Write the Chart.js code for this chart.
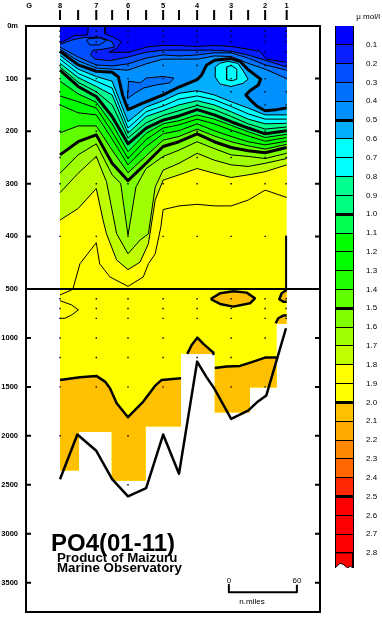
<!DOCTYPE html>
<html><head><meta charset="utf-8">
<style>html,body{margin:0;padding:0;background:#fff}#w{position:relative;width:382px;height:617px}canvas{position:absolute;left:0;top:0}</style>
<script src="https://cdn.jsdelivr.net/npm/chart.js@4"></script></head>
<body><div id="w"><canvas id="main" width="382" height="617"></canvas><canvas id="bar" width="382" height="617"></canvas></div>
<script>
// x in n.miles from station 8; depth in m
const gridX=[0,16,32,46,60,76,91,105,121,136,151,166,181,200];
const topLabels=['8','','7','','6','','5','','4','','3','','2','1'];
const depthTicksUpper=[0,100,200,300,400,500];
const depthTicksLower=[1000,1500,2000,2500,3000,3500];
const sampleUpper=[10,20,30,50,75,100,125,150,200,250,300,400];
const sampleLower=[600,700,800,1000,1200,1500,2000,2500];
const stationX=[0,32,60,91,121,151,181,199.5];
const stationBottom=[2400,1960,2500,1900,1200,1750,1500,800];

const c01=[[0,32],[13,18],[24.4,17],[25,0],[39.7,0],[39.7,15],[47,21],[54,30],[50,43],[43,50],[60,50],[72.5,43],[76,40],[91,37],[105,37],[121,39],[136,37],[151,39],[166,44],[176.5,48],[182,63],[200,69]];
const c02=[[0,35],[10,27],[20.6,22],[35,21],[46,30],[48,40],[38,44],[29,46],[27,55],[31,63],[44,66],[60,59],[76,50],[91,46],[105,46],[121,46],[136,46],[151,48],[166,55],[181,65],[200,78]];
const c03=[40,59,74,76,72,61,55,57,55,51,51,61,74,84];
const c04=[44,66,80,82,84,72,63,63,63,57,58,71,82,100];
const c05=[[0,48],[16,74],[32,86],[46,88],[51.5,97],[55.3,132],[60,159],[76,144],[91,131],[105,116],[121,102],[125,93],[129.4,74],[136.5,65],[151,62],[158.8,67],[166,83],[172,93],[177,101],[175,112],[167.6,123],[164,131],[167.6,140],[173.5,152],[181,161],[191,159],[200,156]];
const c06=[56,82,96,105,182,154,142,128,123,131,144,156,169,169];
const c07=[63,90,105,118,194,163,152,139,133,140,153,167,177,177];
const c08=[71,98,115,131,204,172,161,150,142,150,163,177,186,185];
const c09=[78,107,125,150,213,184,170,161,151,159,172,186,196,192];
const c10=[84,115,134,172,224,194,179,171,159,169,182,194,205,199];
const c11=[105,129,145,186,239,204,186,180,169,177,189,201,212,206];
const c12=[133,144,156,201,252,216,194,188,177,186,198,209,219,212];
const c13=[150,165,169,215,264,229,205,199,186,199,210,220,226,219];
const c14=[203,190,190,236,279,247,217,210,196,209,220,228,234,225];
const c15=[245,220,207,261,294,261,229,220,205,220,231,237,241,231];
const c16=[[0,280],[16,245],[32,224],[46,283],[53.5,299],[60,398],[67,306],[76,271],[91,248],[105,236],[121,220],[136,233],[151,245],[166,248],[181,252],[200,242]];
const c17=[[0,317],[16,280],[32,248],[41,296],[50,395],[60,433],[70.6,407],[78,395],[84,306],[91,274],[105,261],[121,242],[136,255],[151,264],[166,267],[181,261],[200,252]];
const c18=[[0,369],[16,347],[32,309],[38,369],[41,395],[50,445],[60,463],[70.6,449],[78,414],[84,331],[91,293],[105,283],[121,271],[136,280],[151,288],[166,283],[181,277],[200,264]];
const c19=[[0,500],[11.5,499],[17.6,452],[32,412],[35,452],[44,477],[60,495],[73.5,477],[78,452],[84,433],[89,382],[91,349],[105,342],[121,339],[136,342],[151,342],[166,331],[181,312],[200,326]];
const levels=[0.1,0.2,0.3,0.4,0.5,0.6,0.7,0.8,0.9,1.0,1.1,1.2,1.3,1.4,1.5,1.6,1.7,1.8,1.9];
const contourData=[c01,c02,c03,c04,c05,c06,c07,c08,c09,c10,c11,c12,c13,c14,c15,c16,c17,c18,c19];
const bandColors=['#0000ff','#0820ff','#0050ff','#0070ff','#0090ff','#00b0ff','#00ffff','#00ffff','#00ff90','#00ff80','#00ff50','#00ff00','#00ff00','#20ff00','#60ff00','#80ff00','#a0ff00','#c0ff00','#ffff00','#ffff00','#ffc000','#ffa800','#ff8800','#ff6800','#ff2800','#ff0000','#ff0000','#ff0000','#ff0000'];

// closed features, upper
const patch04=[[59.5,138],[60.5,105],[71,108],[76,99],[91,96],[100.5,99],[97,108],[85,112],[73.5,118],[66,128],[59.5,138]];
const patch02=[[23.5,27],[26,24],[35,23],[41,27],[35,36],[26,36],[23.5,27]];
const patch06=[[137,97],[137,78],[141,71],[148,67],[157,71],[161.5,85],[166,101],[161.5,109],[151,115],[141,110],[137,97]];
const patch07=[[147,78],[147,102],[152,104],[156,101],[156,82],[151,75],[147,78]];

// lower panel
const fieldSteps=[[0,500],[200,500],[200,854],[191.2,854],[191.2,1507],[167.6,1507],[167.6,1762],[136.5,1762],[136.5,1163],[106.8,1163],[106.8,1905],[75.6,1905],[75.6,2460],[45.6,2460],[45.6,1960],[16.8,1960],[16.8,2354],[0,2354],[0,500]];
const lineA20=[[0,1429],[17.6,1402],[32,1388],[39.7,1446],[44.1,1514],[50,1667],[60,1810],[73.5,1650],[83.8,1490],[89.7,1429],[106.8,1412]];
const fillA20=[[106.8,1905],[75.6,1905],[75.6,2460],[45.6,2460],[45.6,1960],[16.8,1960],[16.8,2354],[0,2354]];
const lineB20=[[136.5,1306],[147,1293],[158.8,1286],[170.6,1242],[180.9,1201],[191.2,1201]];
const fillB20=[[191.2,1507],[167.6,1507],[167.6,1762],[136.5,1762]];
const lineC20=[[112.3,1163],[116.2,1072],[121.2,997],[126.5,1061],[135.3,1150],[135.3,1163]];
const lineD20=[[132.9,602],[141.2,544],[152.9,524],[164.7,537],[172,595],[167.6,646],[152.9,680],[141.2,653],[132.9,602]];
const lineE20=[[200,510],[195.6,544],[193.5,605],[197,629],[200,629]];
const lineF20=[[190.3,850],[192.6,799],[197,772],[200,772]];
const lowerYellow1=[[0,561],[10,510],[13,500]];
const lowerYellow2=[[0,619],[10.3,663],[16.2,714],[10.3,765],[4.4,799],[0,799]];
const bottomX=[0,15.3,32,46,60,76,91,105,121,129,136,151,166,173.5,182,199.4];
const bottomDepth=[2443,1987,2153,2443,2619,2534,1987,2388,1242,1395,1514,1827,1742,1660,1589,901];
const stationOneMark=[[199.5,400],[199.5,500]];
const scaleBar=[[149,3521],[149,3599],[209,3599],[209,3521]];

function pts(a){return a.map(p=>Array.isArray(p)?{x:p[0],y:p[1]}:null)}
function path(c){return typeof c[0]==='number'?c.map((d,i)=>[gridX[i],d]):c}
function poly(a,color,axis){return {type:'scatter',showLine:true,data:pts(a),yAxisID:axis,xAxisID:'x',fill:'shape',backgroundColor:color,borderWidth:0,borderColor:'transparent',pointRadius:0,tension:0}}
function stroke(a,w,axis,clip){return {type:'scatter',showLine:true,data:pts(a),yAxisID:axis,xAxisID:'x',fill:false,borderColor:'#000',backgroundColor:'transparent',borderWidth:w,pointRadius:0,tension:0,borderJoinStyle:'round'}}

const paint=[];
// base colour of each panel
paint.push(poly([[0,0],[200,0],[200,500],[0,500]],'#ffff00','y1'));
paint.push(poly(fieldSteps,'#ffff00','y2'));
// contours, deepest painted first
for(let i=contourData.length-1;i>=0;i--){
  const p=path(contourData[i]);
  paint.push(poly(p.concat([[200,0],[0,0]]),bandColors[i],'y1'));
}
paint.push(poly(patch04,'#0070ff','y1'));
paint.push(poly(patch02,'#0050ff','y1'));
paint.push(poly(patch06,'#00ffff','y1'));
paint.push(poly(lineA20.concat(fillA20),'#ffc000','y2'));
paint.push(poly(lineB20.concat(fillB20),'#ffc000','y2'));
paint.push(poly(lineC20,'#ffc000','y2'));
paint.push(poly(lineD20,'#ffc000','y2'));
paint.push(poly(lineE20,'#ffc000','y2'));
paint.push(poly(lineF20.concat([[200,854],[190.3,854]]),'#ffc000','y2'));
const lines=[];
contourData.forEach((c,i)=>lines.push(stroke(path(c),(i+1)%5===0?3:1,'y1')));
[patch04,patch02,patch06,patch07].forEach(a=>lines.push(stroke(a,1,'y1')));
[lineA20,lineB20,lineC20,lineD20,lineE20,lineF20].forEach(a=>lines.push(stroke(a,2.5,'y2')));
[lowerYellow1,lowerYellow2].forEach(a=>lines.push(stroke(a,1,'y2')));
lines.push(stroke(stationOneMark,2,'y1'));
lines.push(stroke(bottomX.map((x,i)=>[x,bottomDepth[i]]),2.5,'y2'));
lines.push(stroke(scaleBar,2,'y2'));

const dotsU=[],dotsL=[];
stationX.forEach((x,i)=>{sampleUpper.forEach(d=>dotsU.push({x,y:d}));sampleLower.forEach(d=>{if(d<=stationBottom[i])dotsL.push({x,y:d})})});
const dots=a=>({type:'scatter',data:a,pointRadius:1,pointStyle:'rect',pointBackgroundColor:'#000',pointBorderWidth:0,showLine:false});
const dotU=dots(dotsU);dotU.yAxisID='y1';const dotL=dots(dotsL);dotL.yAxisID='y2';

// Chart.js draws dataset 0 last: reverse painting order
const datasets=[dotU,dotL].concat(lines.slice().reverse(),paint.slice().reverse());

const FONT='"Liberation Sans"';
const frame={id:'frame',afterDraw(ch){
  const c=ch.ctx,a=ch.chartArea,sx=ch.scales.x,y1=ch.scales.y1,y2=ch.scales.y2;
  c.save();c.strokeStyle='#000';c.fillStyle='#000';
  c.lineWidth=2;c.strokeRect(a.left,a.top,a.right-a.left,a.bottom-a.top);
  c.beginPath();c.moveTo(a.left,y1.bottom);c.lineTo(a.right,y1.bottom);c.stroke();
  c.beginPath();
  gridX.forEach(v=>{const x=sx.getPixelForValue(v);c.moveTo(x,10);c.lineTo(x,20)});
  depthTicksUpper.slice(1,-1).forEach(d=>{const y=y1.getPixelForValue(d);c.moveTo(a.left,y);c.lineTo(a.left+5,y);c.moveTo(a.right-5,y);c.lineTo(a.right,y)});
  depthTicksLower.forEach(d=>{const y=y2.getPixelForValue(d);c.moveTo(a.left,y);c.lineTo(a.left+5,y);c.moveTo(a.right-5,y);c.lineTo(a.right,y)});
  c.stroke();
  c.textBaseline='middle';c.textAlign='left';
  c.font='bold 24px '+FONT;c.fillText('PO4(01-11)',51,544);
  c.font='bold 13.3px '+FONT;c.fillText('Product of Maizuru',57,558);c.fillText('Marine Observatory',57,568);
  c.textAlign='center';c.font='8px '+FONT;
  c.fillText('0',sx.getPixelForValue(149),581);c.fillText('60',sx.getPixelForValue(209),581);
  c.fillText('n.miles',252,602);
  c.textAlign='right';c.fillText('\u03bc mol/l',380,17);
  c.restore();
}};
const tickFont={family:FONT,size:7.5,weight:'bold'};
const fitY=s=>{s.width=26;s.paddingTop=0;s.paddingBottom=0;s.paddingLeft=0;s.paddingRight=0};
new Chart(document.getElementById('main'),{
  type:'scatter',
  data:{datasets},
  plugins:[frame],
  options:{responsive:false,animation:false,devicePixelRatio:1,
    layout:{padding:{left:0,right:62,top:0,bottom:5}},
    plugins:{legend:{display:false},tooltip:{enabled:false}},
    scales:{
      x:{type:'linear',position:'top',min:-30,max:229.4,
        afterBuildTicks(s){s.ticks=[{value:-27.3}].concat(gridX.map(v=>({value:v})))},
        afterFit(s){s.height=26;s.paddingLeft=0;s.paddingRight=0;s.paddingTop=0;s.paddingBottom=0},
        ticks:{autoSkip:false,maxRotation:0,padding:16,color:'#000',font:tickFont,
          callback(v){if(v<0)return 'G';const i=gridX.indexOf(v);return i<0?'':topLabels[i]}},
        grid:{display:false,drawTicks:false},border:{display:false}},
      y2:{type:'linear',position:'left',reverse:true,min:500,max:3800,stack:'d',stackWeight:323,
        afterBuildTicks(s){s.ticks=depthTicksLower.map(v=>({value:v}))},
        afterFit:fitY,
        ticks:{padding:8,color:'#000',font:tickFont,autoSkip:false,callback(v){return String(v)}},
        grid:{display:false,drawTicks:false},border:{display:false}},
      y1:{type:'linear',position:'left',reverse:true,min:0,max:500,stack:'d',stackWeight:263,
        afterBuildTicks(s){s.ticks=depthTicksUpper.map(v=>({value:v}))},
        afterFit:fitY,
        ticks:{padding:8,color:'#000',font:tickFont,autoSkip:false,callback(v){return v===0?'0m':String(v)}},
        grid:{display:false,drawTicks:false},border:{display:false}}
    }}
});

// colour bar
const barLevels=[0.1,0.2,0.3,0.4,0.5,0.6,0.7,0.8,0.9,1.0,1.1,1.2,1.3,1.4,1.5,1.6,1.7,1.8,1.9,2.0,2.1,2.2,2.3,2.4,2.5,2.6,2.7,2.8];
const barWave=[[1,2.88],[0.85,2.87],[0.7,2.88],[0.45,2.86],[0.28,2.855],[0,2.88]];
const barSets=[];
barSets.push({type:'scatter',showLine:true,data:pts([[0,2.8],[1,2.8]].concat(barWave)),fill:'shape',backgroundColor:bandColors[28],borderColor:'#000',borderWidth:1,pointRadius:0});
barLevels.forEach((v,i)=>{barSets.unshift({type:'scatter',showLine:true,data:pts([[0,v-0.1],[1,v-0.1],[1,v],[0,v]]),fill:'shape',backgroundColor:bandColors[i],borderWidth:0,borderColor:'transparent',pointRadius:0})});
const heavy=v=>Math.abs(v*2-Math.round(v*2))<1e-6;
new Chart(document.getElementById('bar'),{
  type:'scatter',data:{datasets:barSets},
  options:{responsive:false,animation:false,devicePixelRatio:1,
    layout:{padding:{left:335,right:0,top:26,bottom:49}},
    plugins:{legend:{display:false},tooltip:{enabled:false}},
    scales:{
      x:{type:'linear',min:0,max:1,display:true,
        afterBuildTicks(s){s.ticks=[{value:0},{value:1}]},afterFit(s){s.height=0},
        ticks:{display:false},grid:{z:2,color:'#000',lineWidth:1,drawTicks:false},border:{display:false}},
      y:{type:'linear',position:'right',reverse:true,min:0,max:2.88,
        afterBuildTicks(s){s.ticks=barLevels.map(v=>({value:v}))},afterFit(s){s.width=29},
        ticks:{padding:13,color:'#000',font:{family:FONT,size:8},autoSkip:false,callback(v){return v.toFixed(1)}},
        grid:{z:2,color:'#000',lineWidth(c){return c.tick&&heavy(c.tick.value)?3:1},drawTicks:false},border:{display:false}}
    }}
});
</script></body></html>
